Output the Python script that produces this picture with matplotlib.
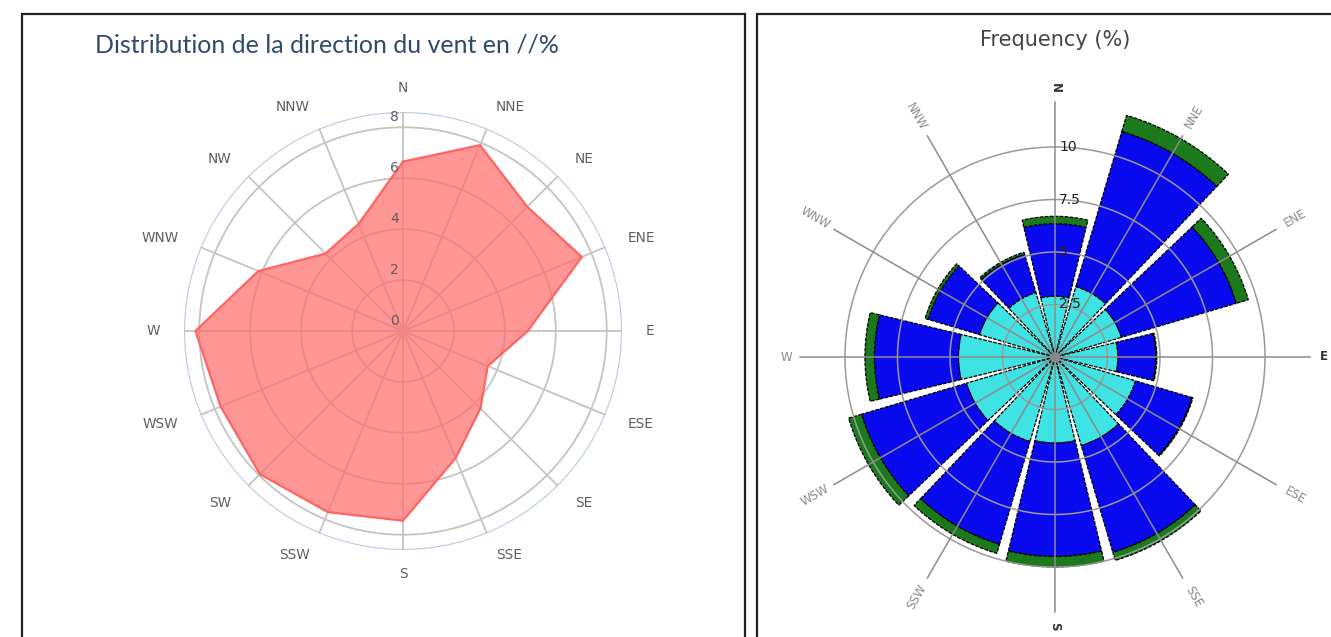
import matplotlib.pyplot as plt
import numpy as np
from matplotlib.patches import Rectangle

W_PX, H_PX = 1331, 637

# left chart: wind direction distribution (%)
dirs16 = ['N', 'NNE', 'NE', 'ENE', 'E', 'ESE', 'SE', 'SSE',
          'S', 'SSW', 'SW', 'WSW', 'W', 'WNW', 'NW', 'NNW']
freq16 = [6.65, 7.9, 6.9, 7.6, 4.9, 3.6, 4.3, 5.4,
          7.45, 7.7, 7.95, 7.75, 8.15, 6.15, 4.3, 4.55]
left_rings = [0, 2, 4, 6, 8]

# right chart: wind rose, stacked frequency classes (%)
rose_labels = ['N', 'NNE', 'ENE', 'E', 'ESE', 'SSE',
               'S', 'SSW', 'WSW', 'W', 'WNW', 'NNW']
class_low = [2.9, 3.5, 3.3, 3.0, 4.0, 4.4, 4.1, 4.2, 4.4, 4.6, 3.75, 3.2]
class_mid = [3.45, 7.7, 5.7, 1.8, 2.8, 5.3, 5.4, 5.1, 5.2, 4.0, 2.55, 1.9]
class_high = [0.35, 0.8, 0.6, 0.05, 0.05, 0.4, 0.5, 0.45, 0.65, 0.45, 0.15, 0.1]
right_rings = [2.5, 5, 7.5, 10]


def polar_box(cx, cy, rad):
    # figure-fraction box for a polar axes centred at pixel (cx, cy), radius rad
    return [(cx - rad) / W_PX, (H_PX - cy - rad) / H_PX, 2 * rad / W_PX, 2 * rad / H_PX]


fig = plt.figure(figsize=(W_PX / 100, H_PX / 100), dpi=100)

# panel frames
fig.add_artist(Rectangle((22 / W_PX, -0.05), (745 - 22) / W_PX, (H_PX - 14) / H_PX + 0.05,
                         transform=fig.transFigure, fill=False, ec='#222222', lw=1.6))
fig.add_artist(Rectangle((757 / W_PX, -0.05), 0.5, (H_PX - 14) / H_PX + 0.05,
                         transform=fig.transFigure, fill=False, ec='#222222', lw=1.6))

# ---------------- left chart ----------------
rmax1 = 8.6
ax1 = fig.add_axes(polar_box(403, 331, 219), projection='polar')
ax1.set_theta_zero_location('N')
ax1.set_theta_direction(-1)
ax1.set_ylim(0, rmax1)
ax1.axis('off')

th_full = np.linspace(0, 2 * np.pi, 400)
for r in left_rings[1:]:
    ax1.plot(th_full, np.full_like(th_full, r), color='#c4c4c4', lw=1.3, zorder=1)
ax1.plot(th_full, np.full_like(th_full, rmax1), color='#b9cbe2', lw=1.6, zorder=1)

th16 = np.deg2rad(np.arange(16) * 22.5)
for t in th16:
    ax1.plot([t, t], [0, rmax1], color='#c4c4c4', lw=1.3, zorder=1)

th_closed = np.append(th16, th16[0])
f_closed = np.append(freq16, freq16[0])
ax1.fill(th_closed, f_closed, color='#ff6e6e', alpha=0.72, lw=0, zorder=2)
ax1.plot(th_closed, f_closed, color='#ff6464', lw=1.6, zorder=3)

for name, t in zip(dirs16, th16):
    s = np.sin(t)
    ha = 'center' if abs(s) < 0.1 else ('left' if s > 0 else 'right')
    ax1.text(t, 9.54, name, ha=ha, va='center', fontsize=9.8, color='#5e5e5e',
             family='DejaVu Sans')

for r in left_rings:
    ax1.annotate(str(r), xy=(0, r), xytext=(-4, 10), textcoords='offset pixels',
                 ha='right', va='center', fontsize=10, color='#5e5e5e', zorder=5)

fig.text(95 / W_PX, 1 - 45 / H_PX, 'Distribution de la direction du vent en //%',
         fontsize=18, color='#2f4b6b', ha='left', va='center', family='Lato')

# ---------------- right chart ----------------
scale2 = 21.0
rmax2 = 14.0
ax2 = fig.add_axes(polar_box(1055, 357, rmax2 * scale2), projection='polar')
ax2.set_theta_zero_location('N')
ax2.set_theta_direction(-1)
ax2.set_ylim(0, rmax2)
ax2.axis('off')

th12 = np.deg2rad(np.arange(12) * 30)
width = np.deg2rad(27)
low = np.array(class_low)
mid = np.array(class_mid)
high = np.array(class_high)
bar_kw = dict(width=width, edgecolor='black', lw=0.9, linestyle=(0, (3, 1)), zorder=2)
ax2.bar(th12, low, color='#3fe3e3', **bar_kw)
ax2.bar(th12, mid, bottom=low, color='#0a0aee', **bar_kw)
ax2.bar(th12, high, bottom=low + mid, color='#1b7a1b', **bar_kw)

for r in right_rings:
    ax2.plot(th_full, np.full_like(th_full, r), color='#9a9a9a', lw=1.1, zorder=3)
for t in th12:
    ax2.plot([t, t], [0, 12.15], color='#8c8c8c', lw=1.1, zorder=3)
ax2.scatter([0], [0], s=40, color='#888888', zorder=4)

for r in right_rings:
    ax2.annotate(f'{r:g}', xy=(0, r), xytext=(4, 0), textcoords='offset pixels',
                 ha='left', va='center', fontsize=10, color='#222222', zorder=5)

for name, t in zip(rose_labels, th12):
    ang = 90 - np.rad2deg(t)
    rot = (ang + 90) % 180 - 90
    bold = name in ('N', 'E', 'S')
    ax2.text(t, 12.6 + 0.2 * len(name), name, rotation=rot, rotation_mode='anchor',
             ha='center', va='center', fontsize=8.5,
             color='#333333' if bold else '#8a8a8a',
             fontweight='bold' if bold else 'normal')

fig.text(1055 / W_PX, 1 - 40 / H_PX, 'Frequency (%)', fontsize=15, color='#444444',
         ha='center', va='center')

fig.savefig('out.png', dpi=100)
